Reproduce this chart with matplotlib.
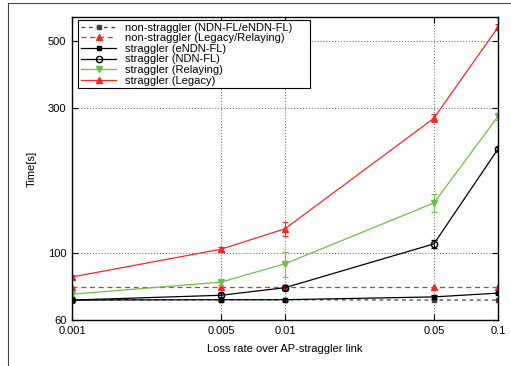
import matplotlib
matplotlib.use("Agg")
import matplotlib.pyplot as plt
from matplotlib.lines import Line2D
import numpy as np

plt.rcParams['font.family'] = ['Liberation Sans', 'DejaVu Sans']

loss = [0.001, 0.005, 0.01, 0.05, 0.1]
xtick_labels = ["0.001", "0.005", "0.01", "0.05", "0.1"]
yticks = [60, 100, 300, 500]

nonstrag_ndn = [70, 70, 70, 69.8, 69.8]
nonstrag_legacy = [77, 77, 77, 77, 77]
strag_endn = [69.8, 70, 70, 71.5, 73.6]
strag_endn_err = [0.5, 0.5, 0.5, 1.2, 0.5]
strag_ndn = [69.8, 72.4, 76.7, 107, 220]
strag_ndn_err = [0.5, 1.0, 1.5, 3.5, 3]
strag_relay = [73, 80, 92, 146, 282]
strag_relay_err = [1, 1.5, 8.5, 10, 8]
strag_legacy = [83.2, 102.7, 120, 278, 555]
strag_legacy_err = [1, 1.5, 6, 8, 12]

labels = ['non-straggler (NDN-FL/eNDN-FL)', 'non-straggler (Legacy/Relaying)',
          'straggler (eNDN-FL)', 'straggler (NDN-FL)', 'straggler (Relaying)',
          'straggler (Legacy)']

RED = '#f02828'
GREEN = '#6cc048'
GRAY = '#404040'

fig = plt.figure(figsize=(5.11, 3.66), dpi=100)
ax = fig.add_axes([0.1409, 0.1257, 0.8337, 0.8279])
ax.set_xscale('log')
ax.set_yscale('log')

eb = dict(elinewidth=0.8, capsize=2, capthick=0.8)
styles = [
    dict(color=GRAY, ls=(0, (3, 3)), lw=0.9, marker='s', ms=3.5),
    dict(color=RED, ls=(0, (4, 3)), lw=0.9, marker='^', ms=4.5),
    dict(color='black', ls='-', lw=0.9, marker='s', ms=3.5),
    dict(color='black', ls='-', lw=0.9, marker='o', ms=4.5, mfc='none', mew=1.0),
    dict(color=GREEN, ls='-', lw=0.9, marker='v', ms=5),
    dict(color=RED, ls='-', lw=0.9, marker='^', ms=5),
]
series = [nonstrag_ndn, nonstrag_legacy, strag_endn, strag_ndn, strag_relay, strag_legacy]
errs = [None, None, strag_endn_err, strag_ndn_err, strag_relay_err, strag_legacy_err]

handles = []
for ys, er, st, lab in zip(series, errs, styles, labels):
    if er is None:
        ax.plot(loss, ys, **st)
    else:
        ax.errorbar(loss, ys, yerr=er, **st, **eb)
    handles.append(Line2D([], [], label=lab, **st))

ax.set_xlim(0.001, 0.1)
ax.set_ylim(60, 600)
ax.set_xticks(loss)
ax.set_xticklabels(xtick_labels)
ax.set_yticks(yticks)
ax.set_yticklabels([str(v) for v in yticks])
ax.xaxis.set_minor_locator(matplotlib.ticker.NullLocator())
ax.yaxis.set_minor_locator(matplotlib.ticker.NullLocator())
ax.tick_params(direction='in', length=4, width=0.8, labelsize=8, top=True, right=True, pad=4)
ax.grid(True, which='major', color='#555555', ls=(0, (1, 2)), lw=0.7)
for s in ax.spines.values():
    s.set_linewidth(1.0)

ax.set_xlabel('Loss rate over AP-straggler link', fontsize=8, labelpad=6)
ax.set_ylabel('Time[s]', fontsize=8, labelpad=8)

# legend box spanning approx 78..310 px horizontally, 20..88 px vertically
x0 = (78 - 72) / 426
x1 = (310 - 72) / 426
y1 = 1 - (20 - 17) / 303
y0 = 1 - (88 - 17) / 303
leg = ax.legend(handles=handles, loc='upper left', bbox_to_anchor=(x0, y0, x1 - x0, y1 - y0),
                mode='expand', borderaxespad=0, fontsize=8, frameon=True, fancybox=False,
                edgecolor='black', framealpha=1, handlelength=3.2, labelspacing=0.05,
                borderpad=0.25, handletextpad=0.8)
leg.get_frame().set_linewidth(0.8)

fig.add_artist(Line2D([8/511, 8/511], [0, 1 - 3/366], color='#444444', lw=0.8, transform=fig.transFigure))
fig.add_artist(Line2D([8/511, 1], [1 - 3/366, 1 - 3/366], color='#444444', lw=0.8, transform=fig.transFigure))

fig.savefig('out.png', dpi=100)
